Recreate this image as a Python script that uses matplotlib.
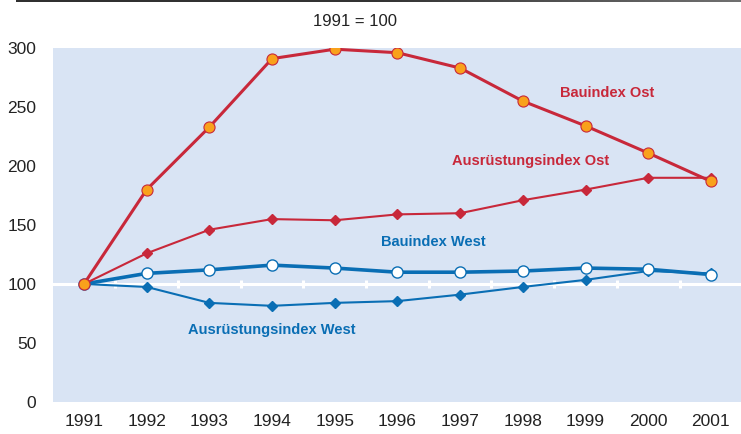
import matplotlib.pyplot as plt
from matplotlib.colors import LinearSegmentedColormap
import numpy as np

plt.rcParams['font.family'] = ['Liberation Sans', 'DejaVu Sans']

years = [1991, 1992, 1993, 1994, 1995, 1996, 1997, 1998, 1999, 2000, 2001]
bau_ost = [100, 180, 233, 291, 299, 296, 283, 255, 234, 211, 187]
ausr_ost = [100, 126, 146, 155, 154, 159, 160, 171, 180, 190, 190]
bau_west = [100, 109, 112, 116, 113.5, 110, 110, 111, 113.5, 112.5, 108]
ausr_west = [100, 97.5, 84, 81.5, 84, 85.5, 91, 97.5, 103.5, 111, 109]
yticks = [0, 50, 100, 150, 200, 250, 300]

red = '#c8283a'
blue = '#0a6eb4'
orange = '#f9a11b'
bg = '#d9e4f4'

fig = plt.figure(figsize=(7.41, 4.34), dpi=100)
ax = fig.add_axes([53/741, 32/434, 688/741, 354/434])
ax.set_facecolor(bg)
for s in ax.spines.values():
    s.set_visible(False)

ax.set_xlim(1990.506, 2001.48)
ax.set_ylim(0, 300)

# white baseline at 100 with ticks between years
ax.axhline(100, color='white', lw=2.2, zorder=1)
mids = np.array(years[:-1]) + 0.5
ax.vlines(mids, 96.5, 103.5, color='white', lw=2.2, zorder=1)

ax.plot(years, ausr_west, color=blue, lw=1.5, marker='D', markersize=5.5,
        markerfacecolor=blue, markeredgecolor=blue, zorder=2)
ax.plot(years, bau_west, color=blue, lw=2.6, marker='o', markersize=8,
        markerfacecolor='white', markeredgecolor=blue, markeredgewidth=1, zorder=3)
ax.plot(years, ausr_ost, color=red, lw=1.5, marker='D', markersize=5.5,
        markerfacecolor=red, markeredgecolor=red, zorder=4)
ax.plot(years, bau_ost, color=red, lw=2.2, marker='o', markersize=8,
        markerfacecolor=orange, markeredgecolor=red, markeredgewidth=0.8, zorder=5)

ax.set_xticks(years)
ax.set_xticklabels([str(y) for y in years], fontsize=12.5)
ax.set_yticks(yticks)
ax.set_yticklabels([str(v) for v in yticks], fontsize=12.5)
ax.tick_params(axis='both', length=0, colors='#222222')
ax.tick_params(axis='x', pad=9)
ax.tick_params(axis='y', pad=12)

lab = dict(fontsize=10.5, fontweight='bold', ha='center', va='center')
ax.text(1999.34, 262, 'Bauindex Ost', color=red, **lab)
ax.text(1998.13, 204, 'Ausrüstungsindex Ost', color=red, **lab)
ax.text(1996.58, 135.6, 'Bauindex West', color=blue, **lab)
ax.text(1994.0, 61, 'Ausrüstungsindex West', color=blue, **lab)

fig.text(355/741, 1 - 21/434, '1991 = 100', fontsize=12, ha='center', va='center',
         color='#222222')

# rule at the top, fading to grey on the right
rule_ax = fig.add_axes([16/741, 1 - 2.5/434, 725/741, 2.5/434])
rule_ax.axis('off')
cmap = LinearSegmentedColormap.from_list('rule', ['#303030', '#333333', '#707070'])
rule_ax.imshow(np.linspace(0, 1, 256).reshape(1, -1), aspect='auto', cmap=cmap,
               interpolation='bilinear')

plt.savefig('out.png', dpi=100)
